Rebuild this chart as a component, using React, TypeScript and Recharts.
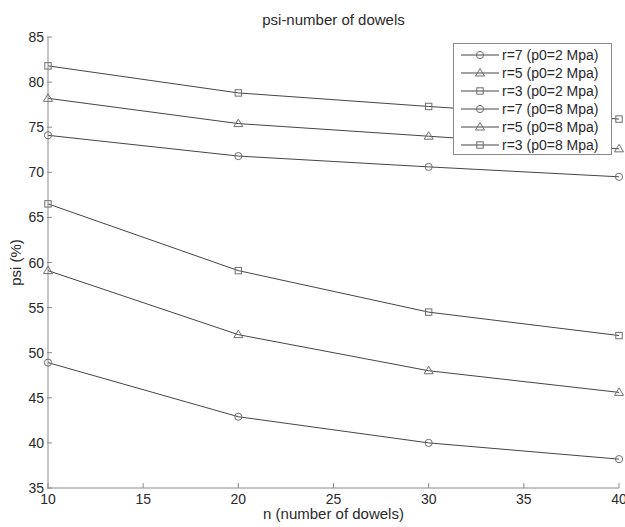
import React from 'react';
import { LineChart, Line, XAxis, YAxis, Legend } from 'recharts';

// ---- data ----
const nDowels = [10, 20, 30, 40];
const r7p2 = [74.1, 71.8, 70.6, 69.5];
const r5p2 = [78.2, 75.4, 74.0, 72.6];
const r3p2 = [81.8, 78.8, 77.3, 75.9];
const r7p8 = [48.9, 42.9, 40.0, 38.2];
const r5p8 = [59.1, 52.0, 48.0, 45.6];
const r3p8 = [66.5, 59.1, 54.5, 51.9];
const seriesNames = [
  'r=7 (p0=2 Mpa)',
  'r=5 (p0=2 Mpa)',
  'r=3 (p0=2 Mpa)',
  'r=7 (p0=8 Mpa)',
  'r=5 (p0=8 Mpa)',
  'r=3 (p0=8 Mpa)',
];
const xTicks = [10, 15, 20, 25, 30, 35, 40];
const yTicks = [35, 40, 45, 50, 55, 60, 65, 70, 75, 80, 85];
const titleText = 'psi-number of dowels';
const xLabelText = 'n (number of dowels)';
const yLabelText = 'psi (%)';

const seriesValues = [r7p2, r5p2, r3p2, r7p8, r5p8, r3p8];
const markers = ['circle', 'triangle', 'square', 'circle', 'triangle', 'square'];

const series = seriesNames.map((name, i) => ({
  key: 's' + i,
  name,
  values: seriesValues[i],
  marker: markers[i],
}));

const data = nDowels.map((n, i) => {
  const row: any = { n };
  series.forEach((s) => {
    row[s.key] = s.values[i];
  });
  return row;
});

const FONT = '"Liberation Sans", Arial, sans-serif';
const LINE_COLOR = '#454545';
const MARKER_COLOR = '#6e6e6e';
const AXIS_COLOR = '#8a8a8a';
const TEXT_COLOR = '#2a2a2a';

function Marker({ cx, cy, type }: { cx: number; cy: number; type: string }) {
  if (cx == null || cy == null) return null;
  if (type === 'circle') {
    return <circle cx={cx} cy={cy} r={3.6} fill="none" stroke={MARKER_COLOR} strokeWidth={1} />;
  }
  if (type === 'square') {
    return <rect x={cx - 3.2} y={cy - 3.2} width={6.4} height={6.4} fill="none" stroke={MARKER_COLOR} strokeWidth={1} />;
  }
  return (
    <path
      d={`M${cx},${cy - 4.5} L${cx + 4.5},${cy + 3} L${cx - 4.5},${cy + 3} Z`}
      fill="none"
      stroke={MARKER_COLOR}
      strokeWidth={1}
    />
  );
}

const YTick = (props: any) => {
  const { x, y, payload } = props;
  return (
    <g>
      <text x={x} y={y} dy={5} textAnchor="end" fill={TEXT_COLOR} fontSize={14} fontFamily={FONT}>
        {payload.value}
      </text>
      <line x1={x + 3} y1={y} x2={x + 8} y2={y} stroke={AXIS_COLOR} strokeWidth={1} />
    </g>
  );
};

const XTick = (props: any) => {
  const { x, y, payload } = props;
  return (
    <g>
      <text x={x} y={y} dy={16} textAnchor="middle" fill={TEXT_COLOR} fontSize={14} fontFamily={FONT}>
        {payload.value}
      </text>
      <line x1={x} y1={y} x2={x} y2={y - 5} stroke={AXIS_COLOR} strokeWidth={1} />
    </g>
  );
};

const renderLegend = () => {
  return (
    <div
      style={{
        border: `1px solid ${AXIS_COLOR}`,
        background: '#fff',
        width: 157,
        paddingTop: 2,
        fontFamily: FONT,
      }}
    >
      {series.map((s, i) => (
        <div key={i} style={{ display: 'flex', alignItems: 'center', height: 18 }}>
          <svg width={46} height={18} style={{ display: 'block' }}>
            <line x1={7} y1={9} x2={45} y2={9} stroke={LINE_COLOR} strokeWidth={1} />
            <Marker cx={26} cy={9} type={s.marker} />
          </svg>
          <span style={{ fontSize: 14, color: TEXT_COLOR, marginLeft: 2, whiteSpace: 'nowrap', lineHeight: '18px' }}>
            {s.name}
          </span>
        </div>
      ))}
    </div>
  );
};

export default function App() {
  return (
    <div style={{ position: 'absolute', left: 0, top: 0, width: 625, height: 527, background: '#fff' }}>
      <div
        style={{
          position: 'absolute',
          left: 48,
          width: 571,
          top: 11,
          textAlign: 'center',
          fontFamily: FONT,
          fontSize: 15,
          lineHeight: '17px',
          color: TEXT_COLOR,
        }}
      >
        {titleText}
      </div>
      <LineChart
        width={625}
        height={527}
        data={data}
        margin={{ top: 37, right: 6, bottom: 0, left: 0 }}
      >
        <XAxis
          dataKey="n"
          type="number"
          domain={[10, 40]}
          ticks={xTicks}
          interval={0}
          height={39}
          tickSize={0}
          tickMargin={0}
          tickLine={false}
          axisLine={{ stroke: AXIS_COLOR, strokeWidth: 1 }}
          tick={<XTick />}
          label={{
            content: (p: any) => {
              const vb = p.viewBox || {};
              return (
                <text
                  x={vb.x + vb.width / 2}
                  y={vb.y + 30.5}
                  textAnchor="middle"
                  fill={TEXT_COLOR}
                  fontSize={15}
                  fontFamily={FONT}
                >
                  {xLabelText}
                </text>
              );
            },
          }}
        />
        <YAxis
          type="number"
          domain={[35, 85]}
          ticks={yTicks}
          interval={0}
          width={48}
          tickSize={0}
          tickMargin={4}
          tickLine={false}
          axisLine={{ stroke: AXIS_COLOR, strokeWidth: 1 }}
          tick={<YTick />}
          label={{
            content: (p: any) => {
              const vb = p.viewBox || {};
              const cx = vb.x + 21;
              const cy = vb.y + vb.height / 2;
              return (
                <text
                  x={cx}
                  y={cy}
                  transform={`rotate(-90 ${cx} ${cy})`}
                  textAnchor="middle"
                  fill={TEXT_COLOR}
                  fontSize={15}
                  fontFamily={FONT}
                >
                  {yLabelText}
                </text>
              );
            },
          }}
        />
        <Legend
          layout="vertical"
          align="center"
          verticalAlign="middle"
          content={renderLegend}
          wrapperStyle={{ position: 'absolute', left: 453, top: 43, width: 'auto', height: 'auto' }}
        />
        {series.map((s) => (
          <Line
            key={s.key}
            dataKey={s.key}
            name={s.name}
            type="linear"
            stroke={LINE_COLOR}
            strokeWidth={1}
            isAnimationActive={false}
            dot={(p: any) => <Marker key={`${s.key}-${p.index}`} cx={p.cx} cy={p.cy} type={s.marker} />}
            activeDot={false}
          />
        ))}
      </LineChart>
    </div>
  );
}
